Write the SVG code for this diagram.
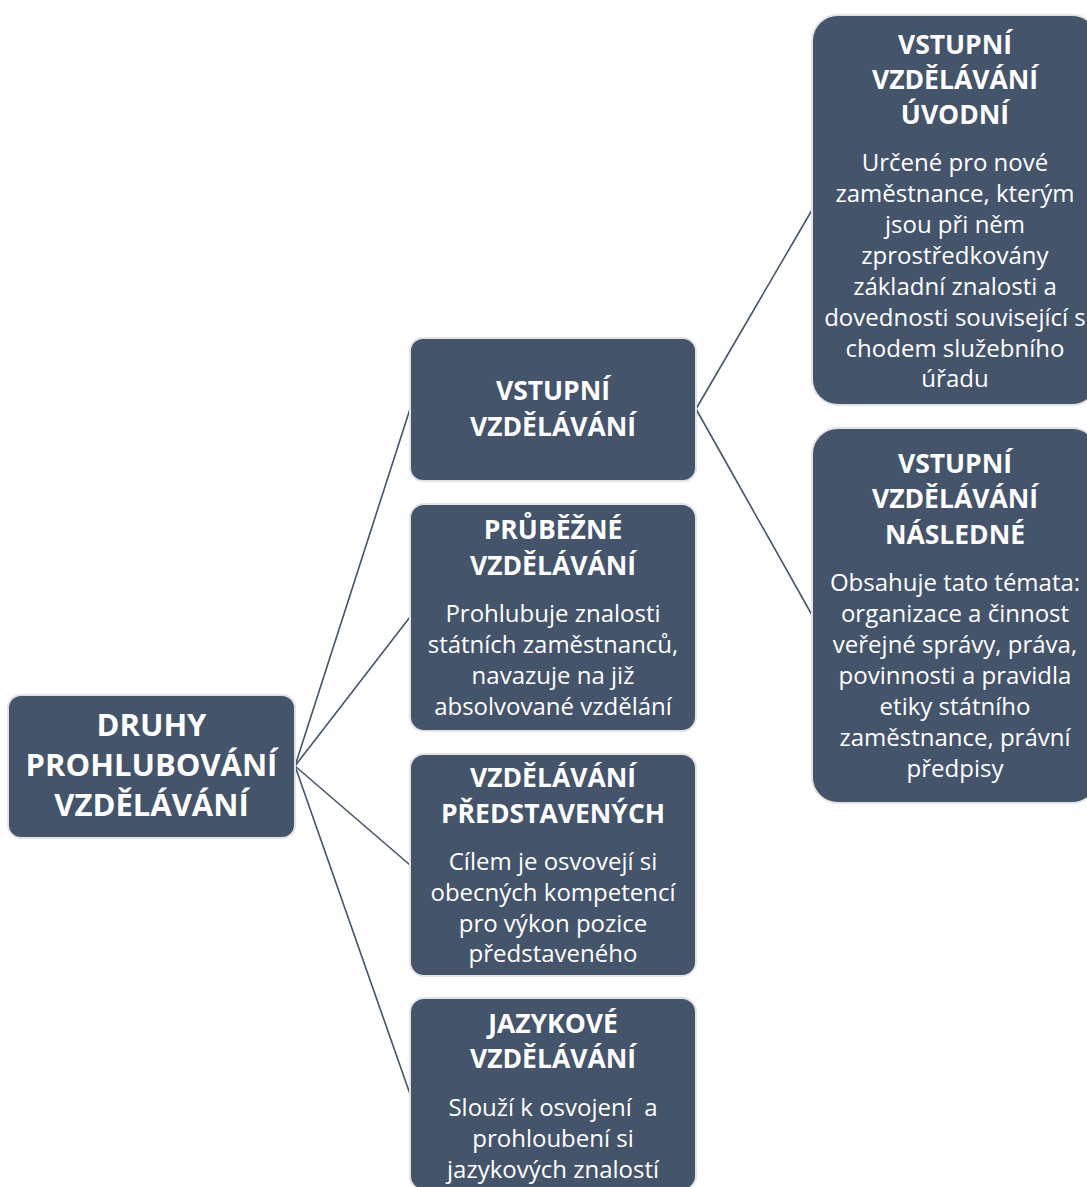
<svg xmlns="http://www.w3.org/2000/svg" width="1087" height="1187" viewBox="0 0 1087 1187">
  <style>
    .box { fill: #44546A; stroke: #E3E3E3; stroke-width: 2; }
    .t { font-family: "Open Sans", "Noto Sans", "DejaVu Sans", sans-serif; fill: #FFFFFF; text-anchor: middle; white-space: pre; }
    .h { font-weight: bold; font-size: 26.5px; }
    .hr { font-weight: bold; font-size: 31px; }
    .d { font-size: 24px; }
    .link { fill: none; stroke: #44546A; stroke-width: 1.6; }
  </style>
  <rect width="1087" height="1187" fill="#FFFFFF"/>

  <!-- connectors -->
  <g id="connectors">
    <line class="link" x1="295" y1="766" x2="410" y2="409"/>
    <line class="link" x1="295" y1="766" x2="410" y2="617"/>
    <line class="link" x1="295" y1="766" x2="410" y2="865"/>
    <line class="link" x1="295" y1="766" x2="410" y2="1094"/>
    <line class="link" x1="696" y1="409" x2="812" y2="210"/>
    <line class="link" x1="696" y1="409" x2="812" y2="615"/>
  </g>

  <!-- root -->
  <g id="root">
    <rect class="box" x="8" y="695" width="287" height="143" rx="13"/>
    <text class="t hr" x="151.5" y="736">DRUHY</text>
    <text class="t hr" x="151.5" y="776">PROHLUBOVÁNÍ</text>
    <text class="t hr" x="151.5" y="816">VZDĚLÁVÁNÍ</text>
  </g>

  <!-- second level -->
  <g id="vstupni">
    <rect class="box" x="410" y="338" width="286" height="143" rx="13"/>
    <text class="t h" x="553" y="400">VSTUPNÍ</text>
    <text class="t h" x="553" y="436">VZDĚLÁVÁNÍ</text>
  </g>

  <g id="prubezne">
    <rect class="box" x="410" y="504" width="286" height="227" rx="14"/>
    <text class="t h" x="553" y="539">PRŮBĚŽNÉ</text>
    <text class="t h" x="553" y="575">VZDĚLÁVÁNÍ</text>
    <text class="t d" x="553" y="622">Prohlubuje znalosti</text>
    <text class="t d" x="553" y="653">státních zaměstnanců,</text>
    <text class="t d" x="553" y="684">navazuje na již</text>
    <text class="t d" x="553" y="715">absolvované vzdělání</text>
  </g>

  <g id="predstavenych">
    <rect class="box" x="410" y="754" width="286" height="222" rx="14"/>
    <text class="t h" x="553" y="787">VZDĚLÁVÁNÍ</text>
    <text class="t h" x="553" y="823">PŘEDSTAVENÝCH</text>
    <text class="t d" x="553" y="870">Cílem je osvovejí si</text>
    <text class="t d" x="553" y="901">obecných kompetencí</text>
    <text class="t d" x="553" y="932">pro výkon pozice</text>
    <text class="t d" x="553" y="962">představeného</text>
  </g>

  <g id="jazykove">
    <rect class="box" x="410" y="998" width="286" height="192" rx="14"/>
    <text class="t h" x="553" y="1033">JAZYKOVÉ</text>
    <text class="t h" x="553" y="1068">VZDĚLÁVÁNÍ</text>
    <text class="t d" x="553" y="1116">Slouží k osvojení  a</text>
    <text class="t d" x="553" y="1147">prohloubení si</text>
    <text class="t d" x="553" y="1178">jazykových znalostí</text>
  </g>

  <!-- third level -->
  <g id="uvodni">
    <rect class="box" x="812" y="15" width="286" height="390" rx="26"/>
    <text class="t h" x="955" y="54">VSTUPNÍ</text>
    <text class="t h" x="955" y="89">VZDĚLÁVÁNÍ</text>
    <text class="t h" x="955" y="124">ÚVODNÍ</text>
    <text class="t d" x="955" y="171">Určené pro nové</text>
    <text class="t d" x="955" y="202">zaměstnance, kterým</text>
    <text class="t d" x="955" y="233">jsou při něm</text>
    <text class="t d" x="955" y="264">zprostředkovány</text>
    <text class="t d" x="955" y="295">základní znalosti a</text>
    <text class="t d" x="955" y="326">dovednosti související s</text>
    <text class="t d" x="955" y="357">chodem služebního</text>
    <text class="t d" x="955" y="387">úřadu</text>
  </g>

  <g id="nasledne">
    <rect class="box" x="812" y="428" width="286" height="375" rx="26"/>
    <text class="t h" x="955" y="473">VSTUPNÍ</text>
    <text class="t h" x="955" y="508">VZDĚLÁVÁNÍ</text>
    <text class="t h" x="955" y="544">NÁSLEDNÉ</text>
    <text class="t d" x="955" y="591">Obsahuje tato témata:</text>
    <text class="t d" x="955" y="622">organizace a činnost</text>
    <text class="t d" x="955" y="653">veřejné správy, práva,</text>
    <text class="t d" x="955" y="684">povinnosti a pravidla</text>
    <text class="t d" x="955" y="715">etiky státního</text>
    <text class="t d" x="955" y="746">zaměstnance, právní</text>
    <text class="t d" x="955" y="777">předpisy</text>
  </g>
</svg>
